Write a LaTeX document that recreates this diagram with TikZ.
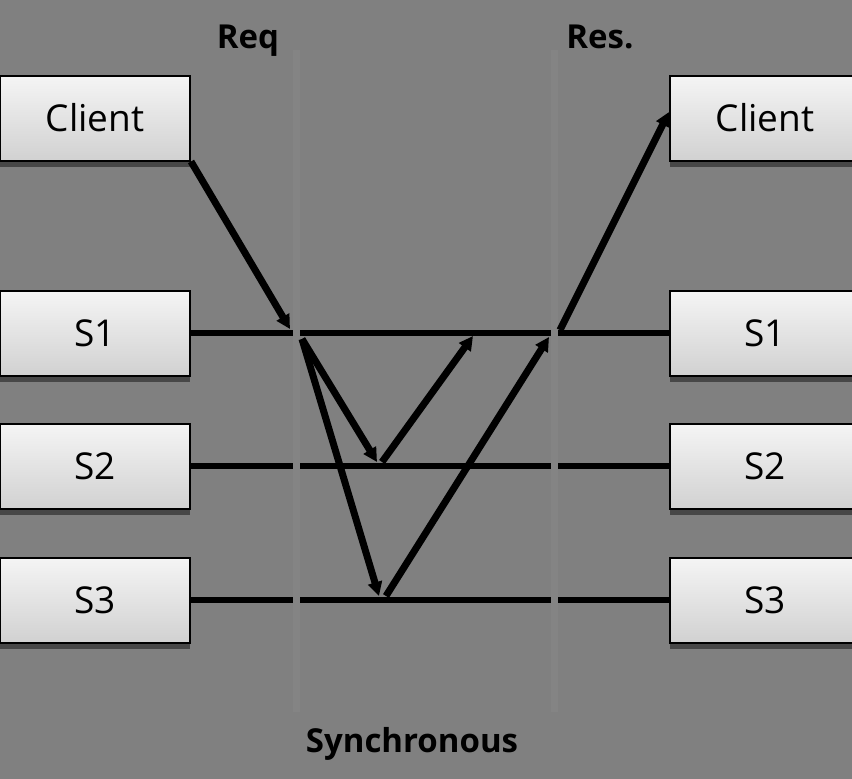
\documentclass[tikz,border=0pt]{standalone}
\usepackage{fontspec}
\setmainfont{Open Sans}
\usetikzlibrary{arrows.meta,shadows}
\definecolor{bggray}{RGB}{128,128,128}
\definecolor{lifegray}{RGB}{132,132,132}
\tikzset{
  hostbox/.style={draw=black, line width=2pt, top color=black!4, bottom color=black!18,
    minimum width=190pt, minimum height=85pt, inner sep=0pt,
    font=\fontsize{37}{40}\selectfont,
    drop shadow={shadow xshift=0pt, shadow yshift=-6pt, fill=black!72, opacity=1}},
  wire/.style={line width=6.5pt},
  lifeline/.style={color=lifegray, line width=7pt},
  msg/.style={line width=7pt, -{Triangle[length=14pt,width=14pt]}},
  caption/.style={anchor=base, font=\bfseries\fontsize{33}{36}\selectfont}
}

\begin{document}
\begin{tikzpicture}[x=1pt,y=-1pt]
\useasboundingbox (0,0) rectangle (852,779);
\fill[color=bggray] (0,0) rectangle (852,779);
% Drawing hosts
\node[hostbox] (lclient) at (95,118) {Client};
\node[hostbox] (ls1) at (95,333) {S1};
\node[hostbox] (ls2) at (95,466) {S2};
\node[hostbox] (ls3) at (95,600) {S3};
\node[hostbox] (rclient) at (765,118) {Client};
\node[hostbox] (rs1) at (765,333) {S1};
\node[hostbox] (rs2) at (765,466) {S2};
\node[hostbox] (rs3) at (765,600) {S3};
% Drawing wires
\draw[wire] (ls1.east) -- (rs1.west);
\draw[wire] (ls2.east) -- (rs2.west);
\draw[wire] (ls3.east) -- (rs3.west);
% Drawing lifelines
\coordinate (reqtop) at (296,50);
\coordinate (reqbot) at (296,712);
\coordinate (restop) at (554,50);
\coordinate (resbot) at (554,712);
\draw[lifeline] (reqtop) -- (reqbot);
\draw[lifeline] (restop) -- (resbot);
% Drawing messages
\coordinate (s1in) at (290,329);
\coordinate (s1out) at (302,339);
\coordinate (s2hit) at (377,462);
\coordinate (s3hit) at (379,596);
\coordinate (s2back) at (382,462);
\coordinate (s1ack) at (473,336);
\coordinate (s3back) at (386,596);
\coordinate (s1done) at (549,337);
\coordinate (s1ret) at (560,330);
\draw[msg] (lclient.south east) -- (s1in);
\draw[msg] (s1out) -- (s2hit);
\draw[msg] (s1out) -- (s3hit);
\draw[msg] (s2back) -- (s1ack);
\draw[msg] (s3back) -- (s1done);
\draw[msg] (s1ret) -- ([yshift=6pt]rclient.west);
% Drawing captions
\node[caption] (reqlabel) at (248,48) {Req};
\node[caption] (reslabel) at (600,48) {Res.};
\node[caption] (synclabel) at (412,752) {Synchronous};
\end{tikzpicture}
\end{document}
